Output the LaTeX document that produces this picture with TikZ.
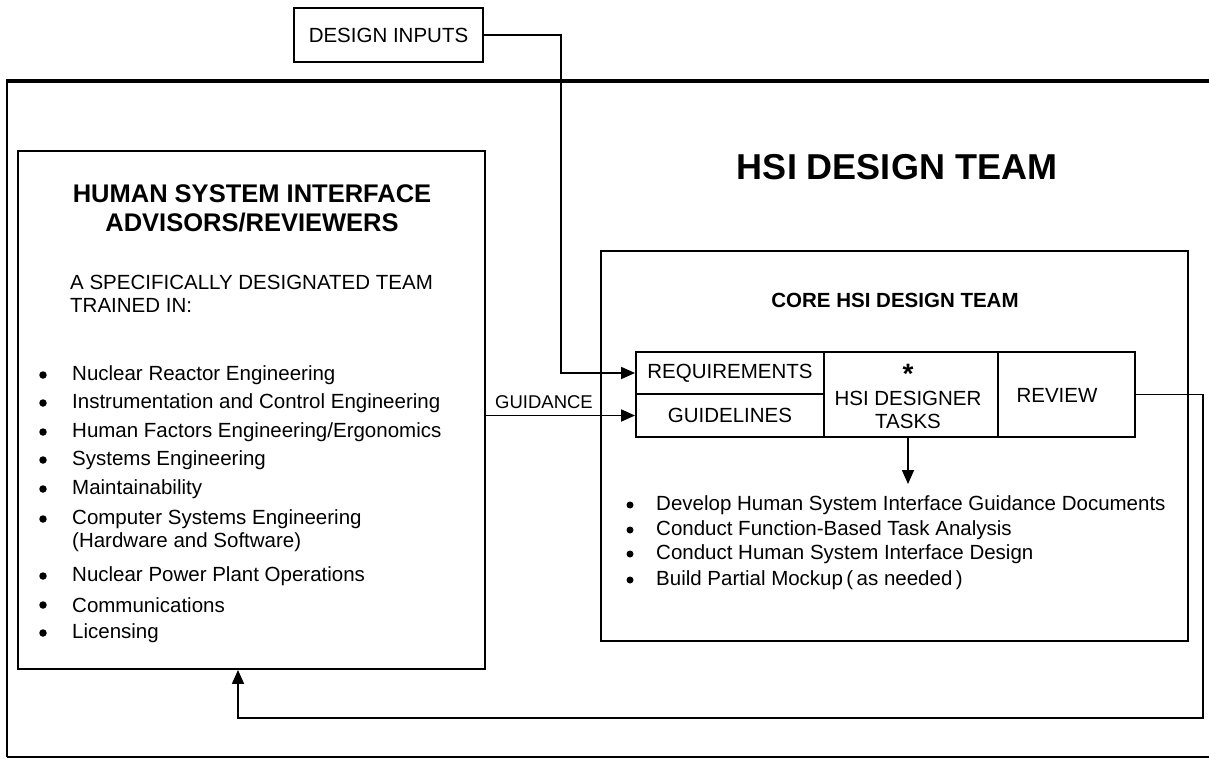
\documentclass[tikz,border=0pt]{standalone}
\usepackage{fontspec}
\setmainfont{Liberation Sans}
\usetikzlibrary{arrows.meta,calc}
\begin{document}
\begin{tikzpicture}[x=1pt,y=-1pt,
  box/.style={draw,line width=1.9pt,inner sep=0pt},
  arr/.style={line width=1.8pt,-{Triangle[length=14pt,width=12pt]}},
  txt/.style={inner sep=0pt,font=\fontsize{20.5}{23}\selectfont},
  bul/.style={circle,fill,inner sep=0pt,minimum size=7.5pt},
  item/.style={txt,anchor=west}
]
\useasboundingbox (0,0) rectangle (1209,759);
% outer frame
\draw[line width=4.5pt] (1209,81) -- (7,81);
\draw[line width=2.6pt] (7,79) -- (7,757);
\draw[line width=1.6pt] (7,757) -- (1209,757);

% design inputs
\node[box,minimum width=189pt,minimum height=54pt,txt] (din) at (388.5,35) {DESIGN INPUTS};

% title
\node[inner sep=0pt,font=\fontsize{36}{40}\bfseries\selectfont] (title) at (897,167) {HSI DESIGN TEAM};

% left box
\node[box,minimum width=467pt,minimum height=518pt] (adv) at (251.5,410) {};
\node[inner sep=0pt,font=\fontsize{25.5}{29}\bfseries\selectfont,align=center] (advt) at (252,208) {HUMAN SYSTEM INTERFACE\\ADVISORS/REVIEWERS};
\node[item,align=left] (team) at (70,294) {A SPECIFICALLY DESIGNATED TEAM\\TRAINED IN:};
\foreach \y/\t [count=\i] in {375/{Nuclear Reactor Engineering},
  403/{Instrumentation and Control Engineering},
  432/{Human Factors Engineering/Ergonomics},
  460/{Systems Engineering},
  489/{Maintainability},
  519/{Computer Systems Engineering},
  576/{Nuclear Power Plant Operations},
  605/{Communications},
  633/{Licensing}}{
  \node[bul] (lb\i) at (43,\y) {};
  \node[item] (li\i) at (72,\y) {\t};
}
\node[item] (li6b) at (72,542) {(Hardware and Software)};

% core box
\node[box,minimum width=587pt,minimum height=390pt] (core) at (894.5,446) {};
\node[inner sep=0pt,font=\fontsize{20.5}{23}\bfseries\selectfont] (coret) at (895,300) {CORE HSI DESIGN TEAM};

% table
\node[box,minimum width=188pt,minimum height=42pt,txt] (req) at (730,373) {REQUIREMENTS};
\node[box,minimum width=188pt,minimum height=43pt,txt] (guid) at (730,415.5) {GUIDELINES};
\node[box,minimum width=174pt,minimum height=85pt] (tasks) at (911,394.5) {};
\node[inner sep=0pt,font=\fontsize{28}{28}\bfseries\selectfont] (star) at (908,374) {*};
\node[txt,align=center] (taskst) at (908,410) {HSI DESIGNER\\TASKS};
\node[box,minimum width=137pt,minimum height=85pt] (review) at (1066.5,394.5) {};
\node[txt] (reviewt) at (1057,395) {REVIEW};

% core bullets
\foreach \y/\t [count=\i] in {505/{Develop Human System Interface Guidance Documents},
  530/{Conduct Function-Based Task Analysis},
  554/{Conduct Human System Interface Design},
  580/{Build Partial Mockup\,(\,as needed\,)}}{
  \node[bul,minimum size=7pt] (cb\i) at (630,\y) {};
  \node[item] (ci\i) at (656,\y) {\t};
}

% connectors
\draw[arr] (din.east) -- ++(77,0) |- (req.west);
\draw[arr] (adv.east |- guid.west) -- (guid.west);
\node[inner sep=0pt,font=\fontsize{18.5}{20}\selectfont] (guidl) at (544,402) {GUIDANCE};
\coordinate (rb) at (1203,718);
\coordinate (lbc) at (238,718);
\draw[arr] (review.east) -| (rb) -- (lbc) -- (lbc |- adv.south);
\coordinate (dn) at (908,484);
\draw[arr] (tasks.south -| dn) -- (dn);
\end{tikzpicture}
\end{document}
